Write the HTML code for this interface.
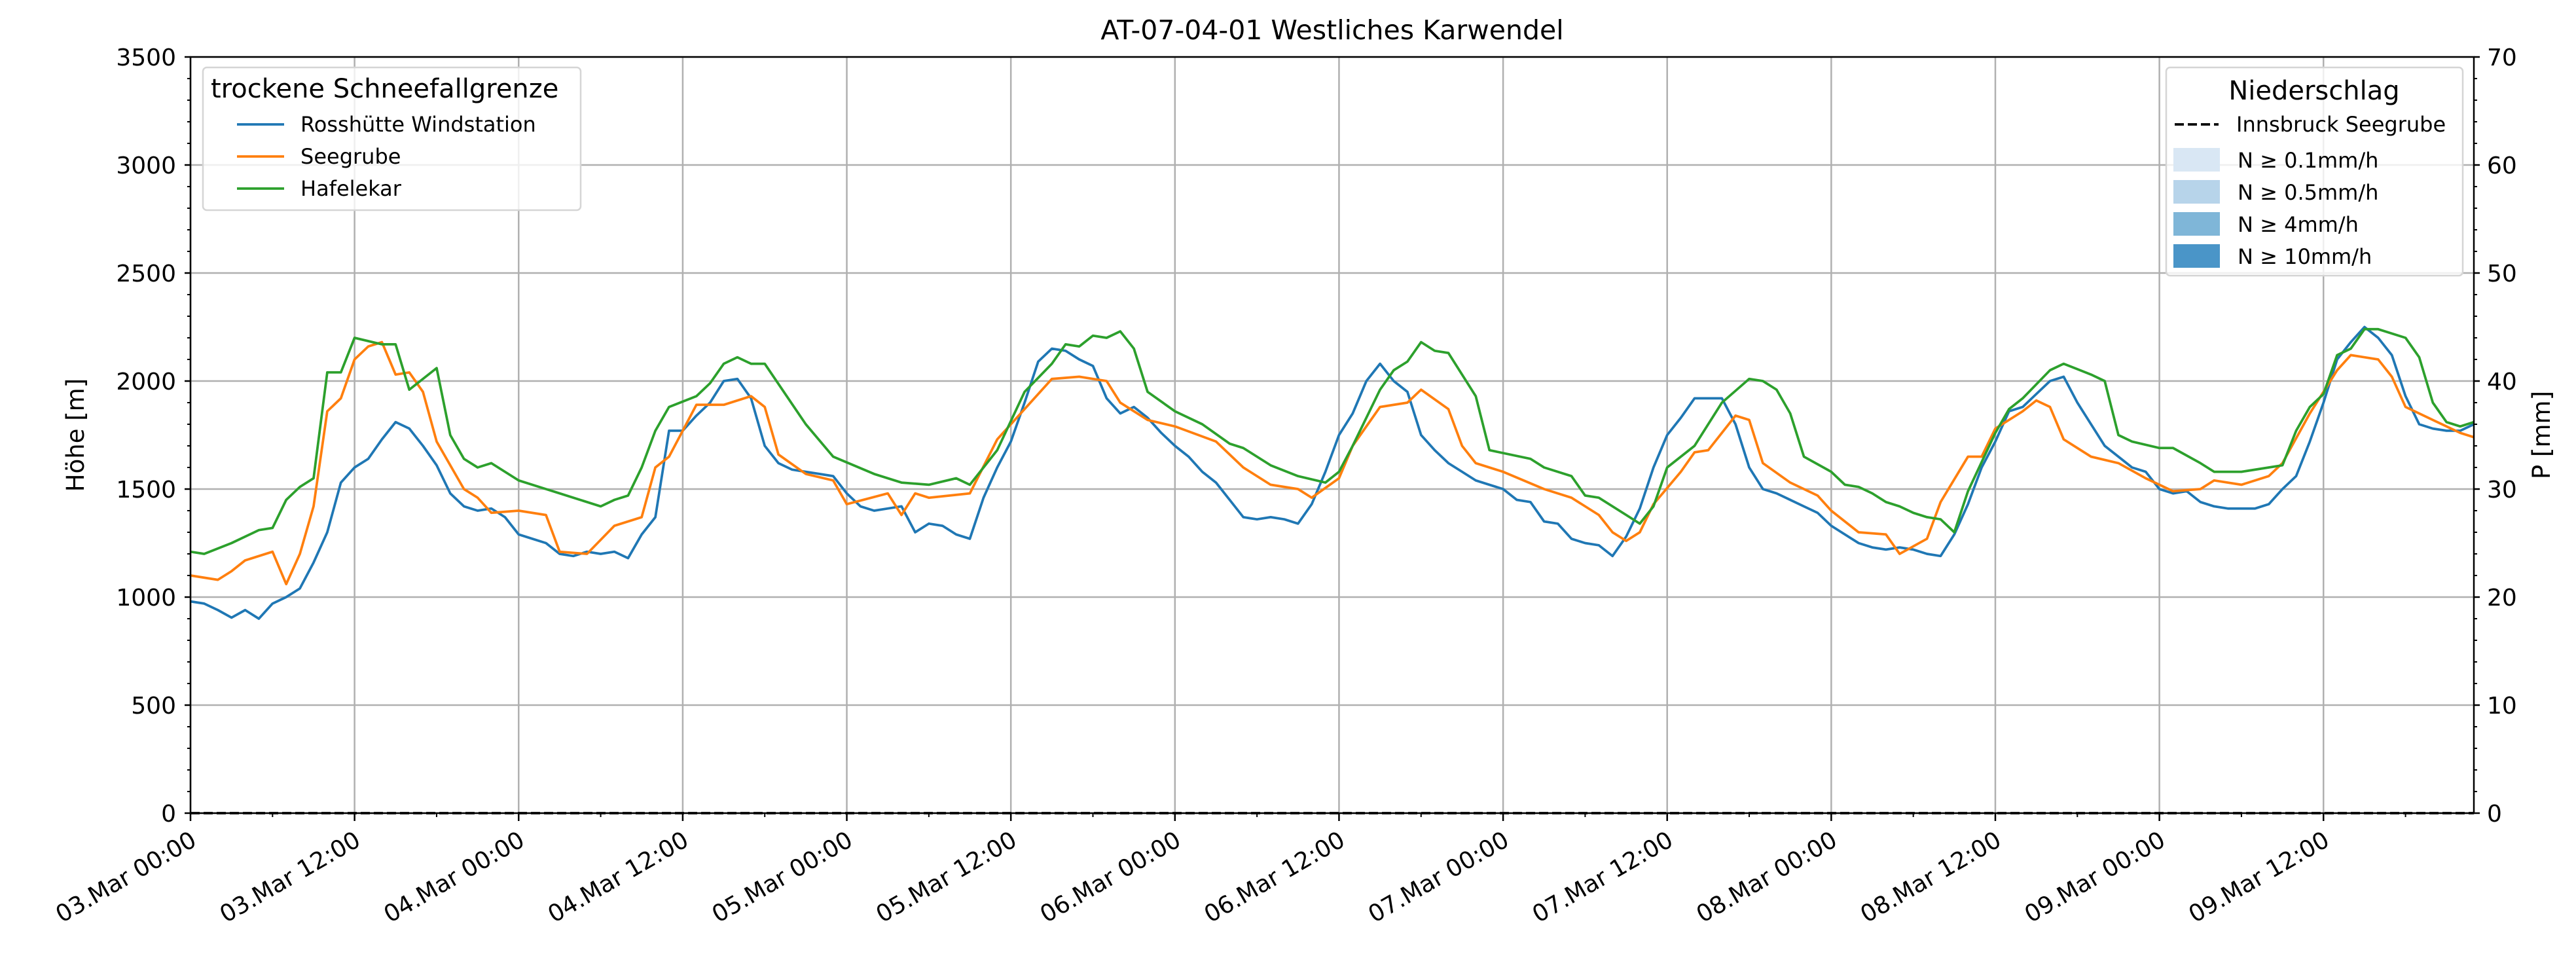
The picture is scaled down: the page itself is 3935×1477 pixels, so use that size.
<!DOCTYPE html>
<html><head><meta charset="utf-8"><style>
html,body{margin:0;padding:0;background:#fff}
svg{display:block;font-family:"DejaVu Sans","Liberation Sans",sans-serif}
</style></head><body>
<svg id="chart" width="3935" height="1477" viewBox="0 0 3935 1477" xmlns="http://www.w3.org/2000/svg">
<rect width="3935" height="1477" fill="#fff"/>
<text x="2035" y="60" font-size="41" text-anchor="middle">AT-07-04-01 Westliches Karwendel</text>
<g id="grid"></g><g id="series"></g><g id="axes"></g><g id="legends"></g>
</svg>
<script>
const xTickLabels=["03.Mar 00:00","03.Mar 12:00","04.Mar 00:00","04.Mar 12:00","05.Mar 00:00","05.Mar 12:00","06.Mar 00:00","06.Mar 12:00","07.Mar 00:00","07.Mar 12:00","08.Mar 00:00","08.Mar 12:00","09.Mar 00:00","09.Mar 12:00"];
const yTicksLeft=[0,500,1000,1500,2000,2500,3000,3500];
const yTicksRight=[0,10,20,30,40,50,60,70];
// hourly values, hour 0 = 03.Mar 00:00
const rossVals=[
980,970,940,905,940,900,970,1000,1040,1160,1300,1530,
1600,1640,1730,1810,1780,1700,1610,1480,1420,1400,1410,1370,
1290,1270,1250,1200,1190,1210,1200,1210,1180,1290,1370,1770,
1770,1840,1900,2000,2010,1920,1700,1620,1590,1580,1570,1560,
1480,1420,1400,1410,1420,1300,1340,1330,1290,1270,1460,1600,
1720,1900,2090,2150,2140,2100,2070,1920,1850,1880,1830,1760,
1700,1650,1580,1530,1450,1370,1360,1370,1360,1340,1430,1580,
1750,1850,2000,2080,2000,1950,1750,1680,1620,1580,1540,1520,
1500,1450,1440,1350,1340,1270,1250,1240,1190,1280,1410,1600,
1750,1830,1920,1920,1920,1800,1600,1500,1480,1450,1420,1390,
1330,1290,1250,1230,1220,1230,1220,1200,1190,1290,1430,1600,
1720,1860,1880,1940,2000,2020,1900,1800,1700,1650,1600,1580,
1500,1480,1490,1440,1420,1410,1410,1410,1430,1500,1560,1720,
1900,2100,2180,2250,2200,2120,1930,1800,1780,1770,1770,1800];
const seeHours=[0,2,3,4,6,7,8,9,10,11,12,13,14,15,16,17,18,20,21,22,24,26,27,29,31,33,34,35,37,39,41,42,43,45,47,48,51,52,53,54,57,59,60,63,65,67,68,70,72,75,77,79,81,82,84,85,87,89,90,92,93,94,96,99,101,103,104,105,106,107,109,110,111,113,114,115,117,119,120,122,124,125,127,128,130,131,132,134,135,136,137,139,141,143,145,147,148,150,152,153,155,157,158,159,160,161,162,164,166,167];
const seeVals=[1100,1080,1120,1170,1210,1060,1200,1420,1860,1920,2100,2160,2180,2030,2040,1950,1720,1500,1460,1390,1400,1380,1210,1200,1330,1370,1600,1650,1890,1890,1930,1880,1660,1570,1540,1430,1480,1380,1480,1460,1480,1730,1800,2010,2020,2000,1900,1820,1790,1720,1600,1520,1500,1460,1550,1700,1880,1900,1960,1870,1700,1620,1580,1500,1460,1380,1300,1260,1300,1430,1580,1670,1680,1840,1820,1620,1530,1470,1400,1300,1290,1200,1270,1440,1650,1650,1780,1860,1910,1880,1730,1650,1620,1550,1490,1500,1540,1520,1560,1620,1850,2050,2120,2110,2100,2020,1880,1820,1760,1740];
const hafHours=[0,1,3,5,6,7,8,9,10,11,12,14,15,16,17,18,19,20,21,22,24,26,27,29,30,31,32,33,34,35,37,38,39,40,41,42,45,47,50,52,54,56,57,59,61,63,64,65,66,67,68,69,70,72,74,76,77,79,81,83,84,85,87,88,89,90,91,92,94,95,98,99,101,102,103,105,106,107,108,110,111,112,114,115,116,117,118,120,121,122,123,124,125,126,127,128,129,130,132,133,134,136,137,139,140,141,142,144,145,147,148,150,152,153,154,155,156,157,158,159,160,162,163,164,165,166,167];
const hafVals=[1210,1200,1250,1310,1320,1450,1510,1550,2040,2040,2200,2170,2170,1960,2010,2060,1750,1640,1600,1620,1540,1500,1480,1440,1420,1450,1470,1600,1770,1880,1930,1990,2080,2110,2080,2080,1800,1650,1570,1530,1520,1550,1520,1680,1950,2080,2170,2160,2210,2200,2230,2150,1950,1860,1800,1710,1690,1610,1560,1530,1580,1700,1960,2050,2090,2180,2140,2130,1930,1680,1640,1600,1560,1470,1460,1380,1340,1420,1600,1700,1800,1900,2010,2000,1960,1850,1650,1580,1520,1510,1480,1440,1420,1390,1370,1360,1300,1490,1760,1870,1920,2050,2080,2030,2000,1750,1720,1690,1690,1620,1580,1580,1600,1610,1770,1880,1940,2120,2150,2240,2240,2200,2110,1900,1810,1790,1810];
const precipHours=[0,167];
const precipVals=[0,0];
const rossHours=rossVals.map((v,i)=>i);

const L=291,R=3779,T=87,B=1242,HMAX=167,YMAX=3500,PMAX=70;
const xs=h=>L+(R-L)*h/HMAX;
const ys=v=>B-(B-T)*v/YMAX;
const yp=v=>B-(B-T)*v/PMAX;
const NS="http://www.w3.org/2000/svg";
function mk(parent,tag,attrs,text){const e=document.createElementNS(NS,tag);for(const k in attrs)e.setAttribute(k,attrs[k]);if(text!==undefined)e.textContent=text;document.getElementById(parent).appendChild(e);return e;}

xTickLabels.forEach((t,i)=>{const x=xs(i*12);
 const g=mk('grid','line',{x1:x,x2:x,y1:T,y2:B,stroke:'#b0b0b0','stroke-width':2.5});
 
 });
yTicksLeft.forEach(v=>{const y=ys(v);
 const g=mk('grid','line',{x1:L,x2:R,y1:y,y2:y,stroke:'#b0b0b0','stroke-width':2.5});
 
 });

function line(hours,vals,color,name,scale,dash){
 const d=hours.map((h,i)=>(i?'L':'M')+xs(h).toFixed(1)+' '+scale(vals[i]).toFixed(1)).join(' ');
 const p=mk('series','path',{d:d,fill:'none',stroke:color,'stroke-width':3.75,'stroke-linejoin':'round'});
 if(dash)p.setAttribute('stroke-dasharray',dash);
 
 }
line(precipHours,precipVals,'#000','precip-innsbruck-seegrube-line',yp,'14 6');
line(rossHours,rossVals,'#1f77b4','rosshuette-line',ys);
line(seeHours,seeVals,'#ff7f0e','seegrube-line',ys);
line(hafHours,hafVals,'#2ca02c','hafelekar-line',ys);

const fr=mk('axes','rect',{x:L,y:T,width:R-L,height:B-T,fill:'none',stroke:'#000','stroke-width':2.5});


yTicksLeft.forEach(v=>{const y=ys(v);
 mk('axes','line',{x1:L-9,x2:L,y1:y,y2:y,stroke:'#000','stroke-width':2.5});
 const t=mk('axes','text',{x:L-22,y:y+13,'font-size':36,'text-anchor':'end'},String(v));
 
 });
for(let v=0;v<YMAX;v+=100){if(v%500)mk('axes','line',{x1:L-5,x2:L,y1:ys(v),y2:ys(v),stroke:'#000','stroke-width':2});}
yTicksRight.forEach(v=>{const y=yp(v);
 mk('axes','line',{x1:R,x2:R+9,y1:y,y2:y,stroke:'#000','stroke-width':2.5});
 const t=mk('axes','text',{x:R+20,y:y+13,'font-size':36,'text-anchor':'start'},String(v));
 
 });
for(let v=0;v<PMAX;v+=2){if(v%10)mk('axes','line',{x1:R,x2:R+5,y1:yp(v),y2:yp(v),stroke:'#000','stroke-width':2});}
xTickLabels.forEach((s,i)=>{const x=xs(i*12);
 mk('axes','line',{x1:x,x2:x,y1:B,y2:B+12,stroke:'#000','stroke-width':2.5});
 const xm=xs(i*12+6); if(i*12+6<HMAX) mk('axes','line',{x1:xm,x2:xm,y1:B,y2:B+6,stroke:'#000','stroke-width':2});
 const t=mk('axes','text',{x:x+4,y:B+50,'font-size':36,'text-anchor':'end',transform:`rotate(-30 ${x+4} ${B+35})`},s);
 
 });
const yl=mk('axes','text',{x:128,y:(T+B)/2,'font-size':37,'text-anchor':'middle',transform:`rotate(-90 128 ${(T+B)/2})`},'Höhe [m]');


const yr=mk('axes','text',{x:3895,y:(T+B)/2,'font-size':37,'text-anchor':'middle',transform:`rotate(-90 3895 ${(T+B)/2})`},'P [mm]');



const lg=mk('legends','rect',{x:310,y:103,width:577,height:218,rx:6,fill:'#fff','fill-opacity':0.8,stroke:'#d5d5d5','stroke-width':2.5});


mk('legends','text',{x:322,y:149,'font-size':40},'trockene Schneefallgrenze');
[['#1f77b4','Rosshütte Windstation'],['#ff7f0e','Seegrube'],['#2ca02c','Hafelekar']].forEach((e,i)=>{const y=190+i*49;
 mk('legends','line',{x1:362,x2:434,y1:y,y2:y,stroke:e[0],'stroke-width':3.75});
 const t=mk('legends','text',{x:459,y:y+11,'font-size':32},e[1]);
 
 });
const lg2=mk('legends','rect',{x:3309,y:103,width:453,height:318,rx:6,fill:'#fff','fill-opacity':0.8,stroke:'#d5d5d5','stroke-width':2.5});


mk('legends','text',{x:3535,y:152,'font-size':40,'text-anchor':'middle'},'Niederschlag');
mk('legends','line',{x1:3322,x2:3389,y1:190,y2:190,stroke:'#000','stroke-width':3.75,'stroke-dasharray':'14 6'});
const t0=mk('legends','text',{x:3416,y:201,'font-size':32},'Innsbruck Seegrube');


[['#d9e7f4','N ≥ 0.1mm/h'],['#b7d4ea','N ≥ 0.5mm/h'],['#7fb6d8','N ≥ 4mm/h'],['#4a95c8','N ≥ 10mm/h']].forEach((e,i)=>{const y=226+i*49;
 mk('legends','rect',{x:3320,y:y,width:71,height:36,fill:e[0]});
 const t=mk('legends','text',{x:3418,y:y+30,'font-size':32},e[1]);
 
 });
</script>
</body></html>
